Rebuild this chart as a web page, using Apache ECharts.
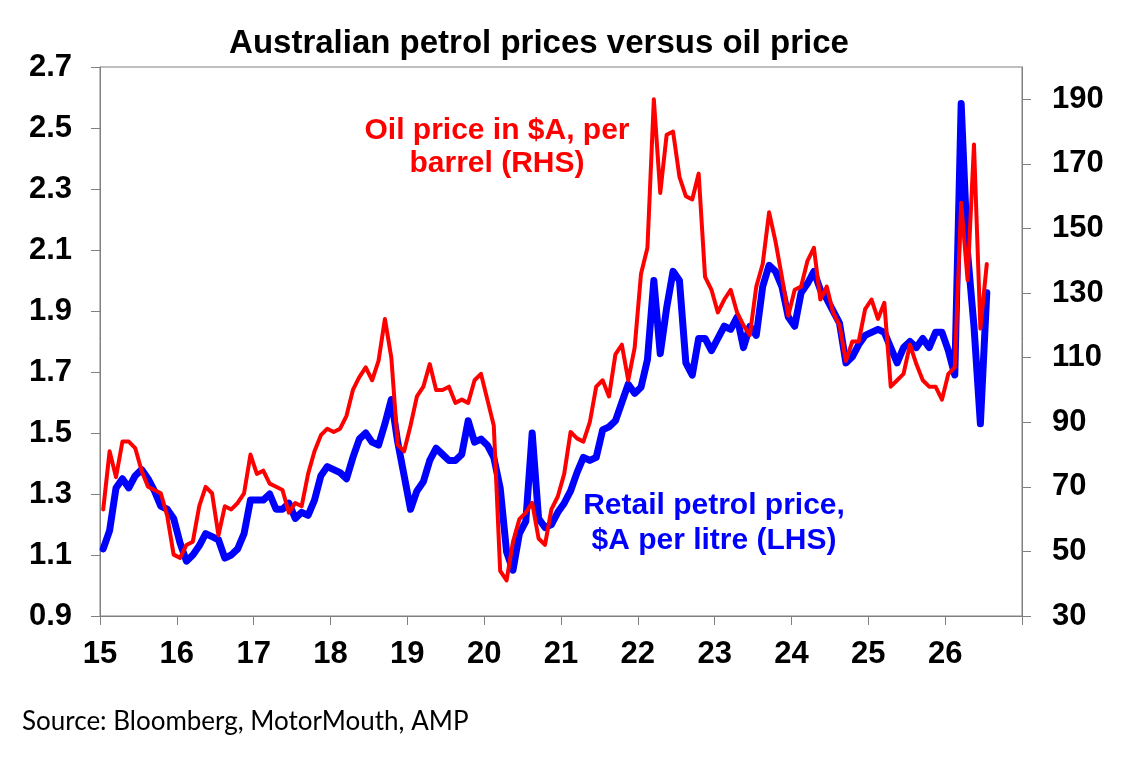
<!DOCTYPE html>
<html>
<head>
<meta charset="utf-8">
<script src="https://cdn.jsdelivr.net/npm/echarts@6/dist/echarts.min.js"></script>
<style>
html,body{margin:0;padding:0;background:#fff;}
#chart{width:1137px;height:760px;}
</style>
</head>
<body>
<div id="chart"></div>
<script>
// Monthly data, Jan 2015 onward (one value per month)
const startYear = 2015;
const petrolPrice = [
1.12,1.18,1.32,1.35,1.32,1.36,1.38,1.35,1.31,1.26,1.25,1.22,
1.14,1.08,1.10,1.13,1.17,1.16,1.15,1.09,1.10,1.12,1.17,1.28,
1.28,1.28,1.30,1.25,1.25,1.27,1.22,1.24,1.23,1.28,1.36,1.39,
1.38,1.37,1.35,1.42,1.48,1.50,1.47,1.46,1.53,1.61,1.47,1.36,
1.25,1.31,1.34,1.41,1.45,1.43,1.41,1.41,1.43,1.54,1.47,1.48,
1.46,1.42,1.32,1.11,1.05,1.17,1.21,1.50,1.22,1.19,1.20,1.24,
1.27,1.31,1.37,1.42,1.41,1.42,1.51,1.52,1.54,1.60,1.66,1.63,
1.65,1.74,2.00,1.76,1.91,2.03,2.00,1.73,1.69,1.81,1.81,1.77,
1.81,1.85,1.84,1.88,1.78,1.85,1.82,1.98,2.05,2.03,1.98,1.88,
1.85,1.96,1.99,2.03,1.97,1.94,1.90,1.86,1.73,1.75,1.79,1.82,
1.83,1.84,1.83,1.78,1.73,1.78,1.80,1.78,1.81,1.78,1.83,1.83,
1.77,1.69,2.58,2.09,1.85,1.53,1.96
];
const oilPrice = [
63,81,73,84,84,82,75,70,69,68,61,49,
48,52,53,64,70,68,55,64,63,65,68,80,
74,75,71,70,69,62,65,64,74,81,86,88,
87,88,92,100,104,107,103,109,122,110,83,81,
89,98,101,108,100,100,101,96,97,96,103,105,
97,89,44,41,53,60,62,65,54,52,63,67,
74,87,85,84,90,101,103,98,111,114,103,113,
136,144,190,161,179,180,166,160,159,167,135,131,
124,128,131,124,120,117,132,139,155,146,135,123,
131,132,140,144,128,132,124,120,109,115,115,125,
128,122,127,101,103,105,114,108,103,101,101,97,
105,107,158,134,176,119,139
];
const yearTicks = [15,16,17,18,19,20,21,22,23,24,25,26];
const leftTicks = [0.9,1.1,1.3,1.5,1.7,1.9,2.1,2.3,2.5,2.7];
const rightTicks = [30,50,70,90,110,130,150,170,190];

// x position of each month: mid-month, in years
const monthX = petrolPrice.map((_, i) => startYear + (i + 0.5) / 12);
const petrolData = petrolPrice.map((v, i) => [monthX[i], v]);
const oilData = oilPrice.map((v, i) => [monthX[i], v]);

const axisFont = 'Liberation Sans, Arial, sans-serif';
const grey = '#808080';

const chart = echarts.init(document.getElementById('chart'), null, {renderer: 'canvas'});
chart.setOption({
  animation: false,
  backgroundColor: '#fff',
  grid: {left: 100, right: 115, top: 67, bottom: 144, show: true, borderColor: grey, borderWidth: 1, backgroundColor: 'transparent'},
  xAxis: {
    type: 'value', min: 2015, max: 2027, interval: 1,
    axisLine: {show: true, lineStyle: {color: grey, width: 1}},
    axisTick: {show: true, inside: false, length: 9, lineStyle: {color: grey}},
    splitLine: {show: false},
    axisLabel: {
      margin: 23, color: '#000', fontFamily: axisFont, fontWeight: 'bold', fontSize: 31,
      customValues: yearTicks.map(y => 2000 + y),
      formatter: v => String(Math.round(v) - 2000)
    }
  },
  yAxis: [
    {
      type: 'value', min: 0.9, max: 2.7, interval: 0.2, position: 'left',
      axisLine: {show: true, lineStyle: {color: grey, width: 1}},
      axisTick: {show: true, length: 9, lineStyle: {color: grey}},
      splitLine: {show: false},
      axisLabel: {
        margin: 28, color: '#000', fontFamily: axisFont, fontWeight: 'bold', fontSize: 31,
        customValues: leftTicks,
        formatter: v => v.toFixed(1)
      }
    },
    {
      type: 'value', min: 30, max: 200, interval: 20, position: 'right',
      axisLine: {show: true, lineStyle: {color: grey, width: 1}},
      axisTick: {show: true, length: 9, lineStyle: {color: grey}, customValues: rightTicks},
      splitLine: {show: false},
      axisLabel: {
        margin: 30, color: '#000', fontFamily: axisFont, fontWeight: 'bold', fontSize: 31,
        customValues: rightTicks,
        formatter: v => String(v)
      }
    }
  ],
  series: [
    {
      name: 'Retail petrol price, $A per litre (LHS)', type: 'line', yAxisIndex: 0,
      data: petrolData, showSymbol: false, symbol: 'none',
      lineStyle: {color: '#0000FF', width: 7, join: 'round', cap: 'round'},
      z: 2
    },
    {
      name: 'Oil price in $A, per barrel (RHS)', type: 'line', yAxisIndex: 1,
      data: oilData, showSymbol: false, symbol: 'none',
      lineStyle: {color: '#FF0000', width: 4, join: 'round', cap: 'round'},
      z: 3
    }
  ],
  graphic: [
    {type: 'text', x: 539, y: 44, silent: true,
     style: {text: 'Australian petrol prices versus oil price', fill: '#000', font: 'bold 33px ' + axisFont, align: 'center', verticalAlign: 'middle'}},
    {type: 'text', x: 497, y: 147, silent: true,
     style: {text: 'Oil price in $A, per\nbarrel (RHS)', fill: '#FF0000', font: 'bold 30px ' + axisFont, lineHeight: 33, align: 'center', verticalAlign: 'middle'}},
    {type: 'text', x: 714, y: 523, silent: true,
     style: {text: 'Retail petrol price,\n$A per litre (LHS)', fill: '#0000FF', font: 'bold 30px ' + axisFont, lineHeight: 35, align: 'center', verticalAlign: 'middle'}},
    {type: 'text', x: 22, y: 722, silent: true,
     style: {text: 'Source: Bloomberg, MotorMouth, AMP', fill: '#000', font: '26px Lato, "Open Sans", sans-serif', align: 'left', verticalAlign: 'middle'}}
  ]
});
</script>
</body>
</html>
